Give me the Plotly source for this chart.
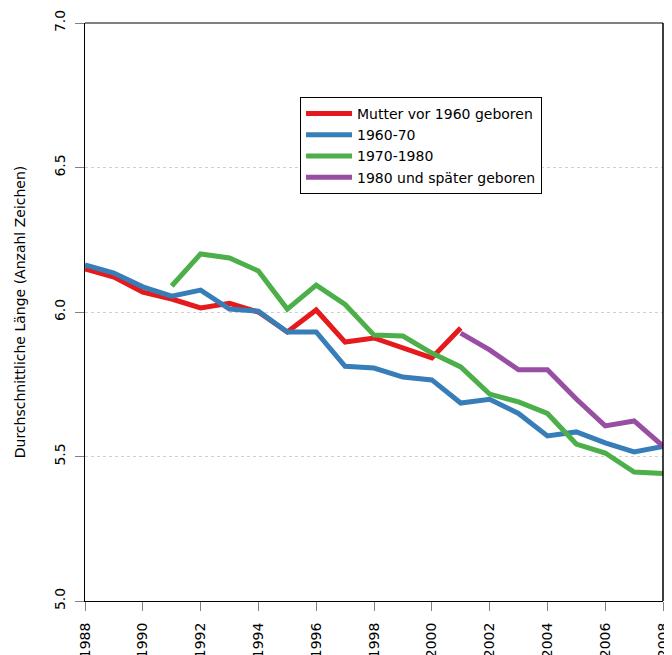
import plotly.graph_objects as go

years_red = list(range(1988, 2002))
red = [6.149, 6.121, 6.069, 6.045, 6.014, 6.030, 6.000, 5.931, 6.007, 5.896, 5.910, 5.875, 5.841, 5.945]

years_blue = list(range(1988, 2009))
blue = [6.163, 6.135, 6.087, 6.055, 6.076, 6.010, 6.003, 5.931, 5.931, 5.812, 5.806, 5.775, 5.765, 5.685,
        5.698, 5.649, 5.571, 5.585, 5.547, 5.516, 5.535]

years_green = list(range(1991, 2009))
green = [6.090, 6.201, 6.187, 6.142, 6.010, 6.093, 6.026, 5.920, 5.917, 5.858, 5.810, 5.716, 5.689, 5.649,
         5.543, 5.512, 5.446, 5.441]

years_purple = list(range(2001, 2009))
purple = [5.927, 5.869, 5.800, 5.800, 5.699, 5.606, 5.623, 5.536]

series_names = ["Mutter vor 1960 geboren", "1960-70", "1970-1980", "1980 und später geboren"]
colors = ["#E41A1C", "#377EB8", "#4DAF4A", "#984EA3"]
x_ticks = list(range(1988, 2009, 2))
y_ticks = [5.0, 5.5, 6.0, 6.5, 7.0]

FONT = "DejaVu Sans"

fig = go.Figure()
for name, xs, ys, c in zip(series_names,
                           [years_red, years_blue, years_green, years_purple],
                           [red, blue, green, purple], colors):
    fig.add_trace(go.Scatter(x=xs, y=ys, mode="lines", name=name,
                             line=dict(color=c, width=5)))

# the page body adds an 8px offset; compensate so the plot sits where the reference has it
fig.update_layout(
    width=664, height=647,
    margin=dict(l=77, r=9, t=15, b=54),
    plot_bgcolor="white", paper_bgcolor="white",
    font=dict(family=FONT, size=14, color="black"),
    showlegend=True,
    legend=dict(x=0.372, y=0.872, xanchor="left", yanchor="top",
                bordercolor="black", borderwidth=1, bgcolor="white",
                font=dict(family=FONT, size=14), tracegroupgap=0,
                itemwidth=46),
)
fig.update_xaxes(range=[1988, 2008], tickvals=x_ticks, ticktext=[str(v) for v in x_ticks],
                 tickangle=-90, ticks="outside", ticklen=9, tickcolor="#808080",
                 ticklabelstandoff=6, automargin=False,
                 showline=True, linecolor="black", linewidth=1, showgrid=False,
                 zeroline=False, tickfont=dict(family=FONT, size=14))
fig.update_yaxes(range=[5, 7], tickvals=y_ticks, ticktext=[f"{v:.1f}" for v in y_ticks],
                 tickangle=-90, ticks="outside", ticklen=9, tickcolor="#808080",
                 ticklabelstandoff=4, automargin=False,
                 showline=True, linecolor="black", linewidth=1,
                 showgrid=True, gridcolor="#d0d0d0", griddash="dot", gridwidth=1,
                 zeroline=False, tickfont=dict(family=FONT, size=14),
                 title=dict(text="Durchschnittliche Länge (Anzahl Zeichen)",
                            font=dict(family=FONT, size=14), standoff=23))
# top border (gray) and right border (black)
fig.add_shape(type="line", xref="paper", yref="paper", x0=0, x1=1, y0=1, y1=1,
              line=dict(color="#808080", width=2), layer="above")
fig.add_shape(type="line", xref="paper", yref="paper", x0=1, x1=1, y0=0, y1=1,
              line=dict(color="black", width=1.5), layer="above")

fig.write_html("out.html")
